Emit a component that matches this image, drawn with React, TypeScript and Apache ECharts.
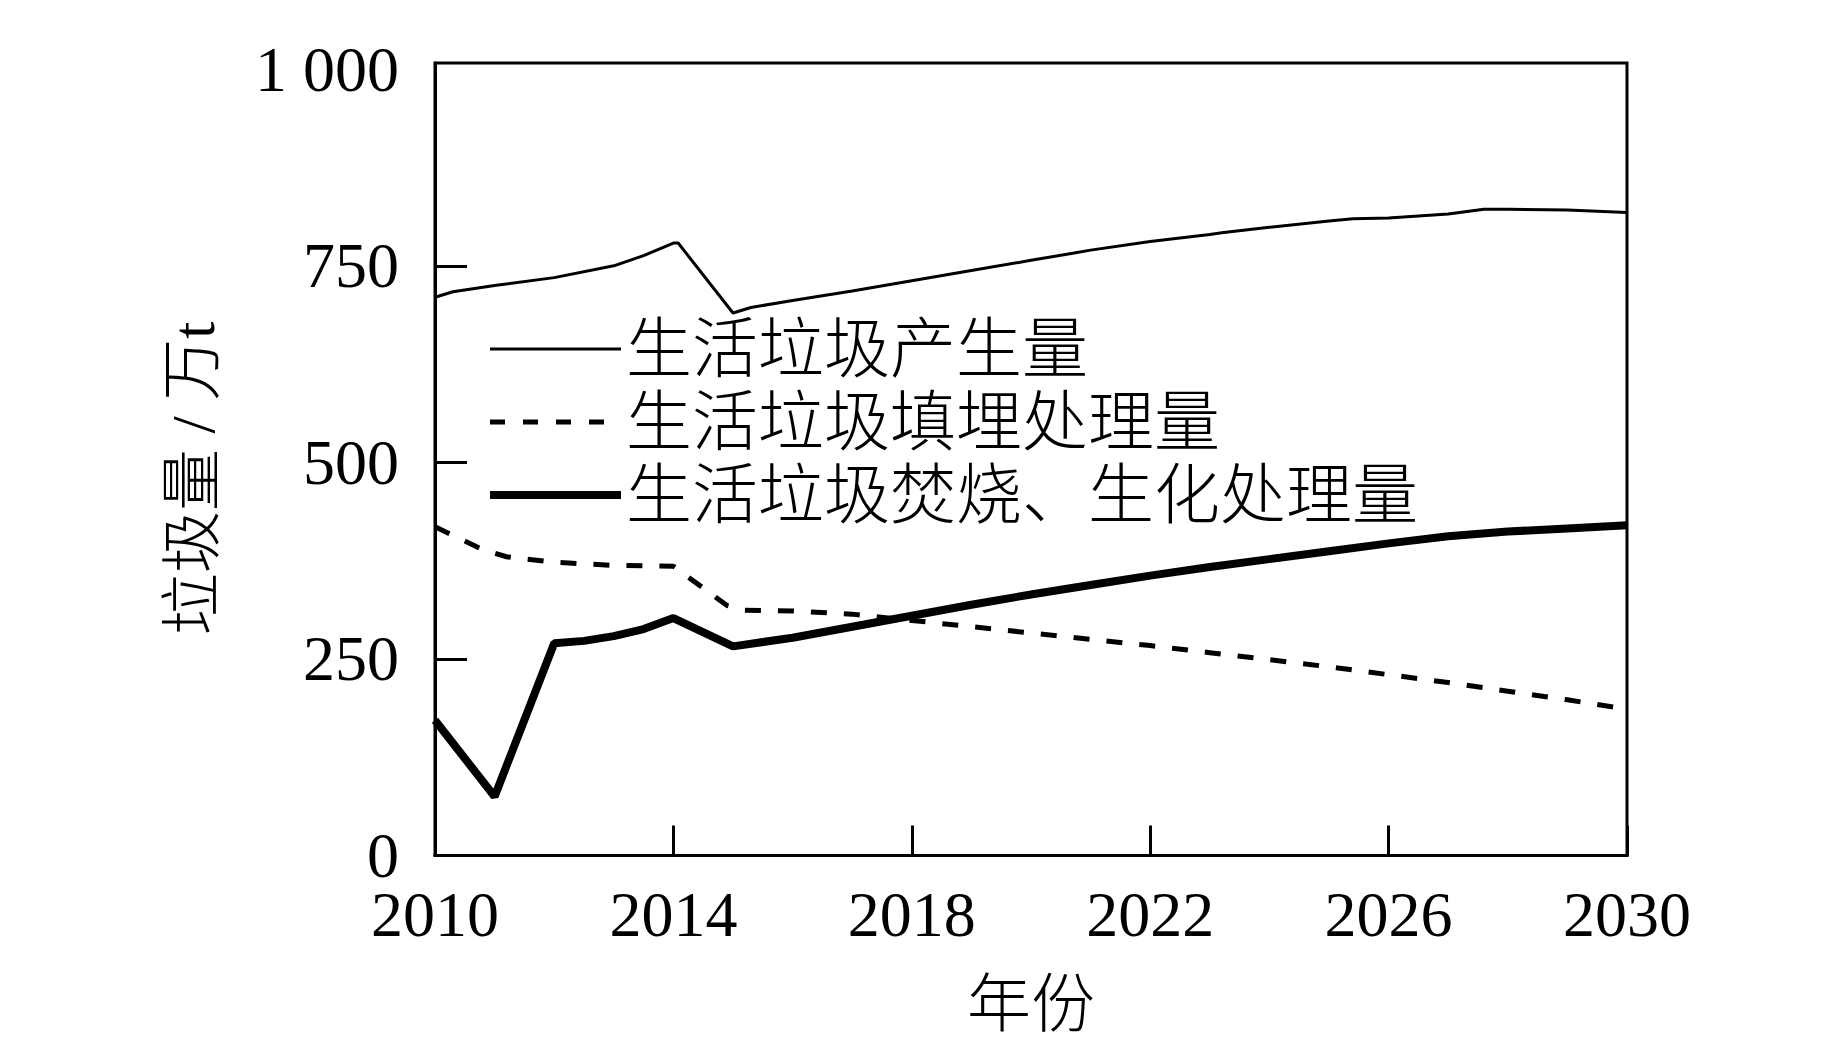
import React, { useEffect, useRef } from 'react';
import * as echarts from 'echarts';

// ---- data ----
const seriesNames = ['生活垃圾产生量', '生活垃圾填埋处理量', '生活垃圾焚烧、生化处理量'];

const generationYears = [2010, 2010.3, 2011, 2012, 2013, 2013.5, 2014, 2014.08, 2015, 2015.3, 2016, 2017, 2018, 2019, 2020, 2020.7, 2021, 2022, 2023, 2023.2, 2024, 2025, 2025.4, 2026, 2027, 2027.6, 2028, 2029, 2030];
const generationValues = [710, 717, 725, 735, 750, 763, 779, 779, 690, 697, 706, 718, 731, 744, 757, 766, 770, 781, 790, 792, 799, 807, 810, 811, 816, 822, 822, 821, 818];

const landfillYears = [2010, 2010.8, 2011.2, 2012, 2013, 2014, 2014.9, 2015.2, 2016, 2017, 2018, 2019, 2020, 2021, 2022, 2023, 2024, 2025, 2026, 2027, 2028, 2029, 2030];
const landfillValues = [418, 389, 380, 373, 369, 368, 318, 312, 311, 307, 299, 291, 283, 275, 267, 258, 249, 240, 230, 220, 209, 198, 186];

const incinerationYears = [2010, 2011, 2012, 2012.5, 2013, 2013.5, 2014, 2015, 2016, 2017, 2018, 2019, 2020, 2021, 2022, 2023, 2024, 2025, 2026, 2027, 2028, 2029, 2030];
const incinerationValues = [172, 75, 270, 273, 279, 288, 302, 266, 277, 291, 305, 319, 332, 344, 356, 367, 377, 387, 397, 406, 412, 416, 420];

const xMin = 2010;
const xMax = 2030;
const xInterval = 4;
const yTicks = [0, 250, 500, 750, 1000];
const yTickMarks = [0, 250, 500, 750];
const yTickLabels = ['0', '250', '500', '750', '1 000'];
const yMax = 1008;
const xAxisName = '年份';
const yAxisName = '垃圾量 / 万t';

const zip = (xs: number[], ys: number[]) => xs.map((x, i) => [x, ys[i]]);

const FONT = "'Liberation Serif', 'Noto Sans CJK SC', serif";

export default function App() {
  const ref = useRef<HTMLDivElement>(null);

  useEffect(() => {
    if (!ref.current) return;
    const chart = echarts.init(ref.current, undefined, { renderer: 'svg' });
    const black = '#000';
    chart.setOption({
      animation: false,
      backgroundColor: '#fff',
      grid: {
        left: 435,
        right: 216,
        top: 63,
        bottom: 207.5,
        show: true,
        borderColor: black,
        borderWidth: 3,
        containLabel: false,
      },
      legend: {
        orient: 'vertical',
        left: 486,
        top: 316,
        padding: 0,
        itemWidth: 131,
        itemHeight: 20,
        itemGap: 7,
        itemStyle: { opacity: 0 },
        textStyle: { fontSize: 66, lineHeight: 66, fontFamily: FONT, color: black, fontWeight: 300 },
        data: [
          { name: seriesNames[0], lineStyle: { width: 3, color: black, type: 'solid' } },
          { name: seriesNames[1], lineStyle: { width: 5, color: black, type: [15, 18] } },
          { name: seriesNames[2], lineStyle: { width: 8, color: black, type: 'solid' } },
        ],
      },
      xAxis: {
        type: 'value',
        min: xMin,
        max: xMax,
        interval: xInterval,
        name: xAxisName,
        nameLocation: 'middle',
        nameGap: 117,
        nameTextStyle: { fontSize: 64, lineHeight: 64, fontFamily: FONT, color: black, fontWeight: 300 },
        axisLine: { show: true, lineStyle: { color: black, width: 3 } },
        axisTick: { show: true, inside: true, length: 30, lineStyle: { color: black, width: 3 } },
        axisLabel: {
          margin: 31,
          fontSize: 64,
          lineHeight: 56,
          fontFamily: FONT,
          color: black,
          formatter: (v: number) => String(v),
        },
        splitLine: { show: false },
      },
      yAxis: {
        type: 'value',
        min: 0,
        max: yMax,
        interval: 250,
        name: yAxisName,
        nameLocation: 'middle',
        nameRotate: 90,
        nameGap: 211,
        nameTextStyle: {
          fontSize: 62,
          lineHeight: 62,
          fontFamily: FONT,
          color: black,
          fontWeight: 300,
          padding: [0, 38, 0, 0],
        },
        axisLine: { show: true, lineStyle: { color: black, width: 3 } },
        axisTick: {
          show: true,
          inside: true,
          length: 32,
          customValues: yTickMarks,
          lineStyle: { color: black, width: 3 },
        },
        axisLabel: {
          margin: 36,
          fontSize: 64,
          lineHeight: 56,
          fontFamily: FONT,
          color: black,
          customValues: yTicks,
          formatter: (v: number) => {
            const i = yTicks.indexOf(v);
            return i >= 0 ? yTickLabels[i] : '';
          },
        },
        splitLine: { show: false },
      },
      series: [
        {
          name: seriesNames[0],
          type: 'line',
          symbol: 'none',
          data: zip(generationYears, generationValues),
          lineStyle: { color: black, width: 3 },
          itemStyle: { color: black },
        },
        {
          name: seriesNames[1],
          type: 'line',
          symbol: 'none',
          data: zip(landfillYears, landfillValues),
          lineStyle: { color: black, width: 5, type: [16, 17] },
          itemStyle: { color: black },
        },
        {
          name: seriesNames[2],
          type: 'line',
          symbol: 'none',
          data: zip(incinerationYears, incinerationValues),
          lineStyle: { color: black, width: 8 },
          itemStyle: { color: black },
        },
      ],
    });
    return () => chart.dispose();
  }, []);

  return (
    <div
      ref={ref}
      style={{ position: 'fixed', left: 0, top: 0, width: 1843, height: 1063, background: '#fff' }}
    />
  );
}
